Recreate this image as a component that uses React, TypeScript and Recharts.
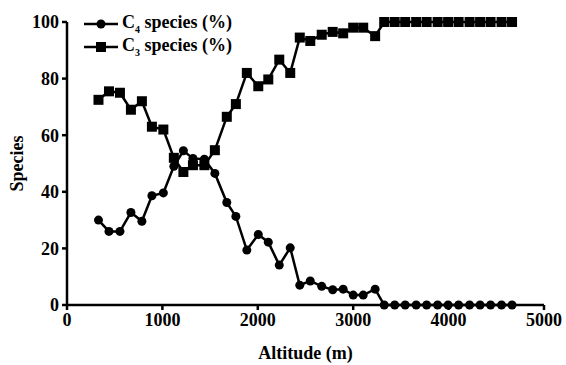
import React from 'react';
import { LineChart, Line, XAxis, YAxis, Label } from 'recharts';

// altitude of each sampling site (m)
const altitude = [
  330, 440, 555, 670, 785, 890, 1010, 1120, 1220, 1320, 1440, 1550, 1675, 1770,
  1885, 2005, 2110, 2225, 2340, 2440, 2550, 2670, 2785, 2895, 3000, 3105, 3230,
  3325, 3435, 3545, 3660, 3770, 3885, 3995, 4105, 4220, 4330, 4440, 4555, 4665,
];

// share of C4 species (%)
const c4Species = [
  30, 26, 26, 32.7, 29.6, 38.6, 39.6, 49, 54.5, 51.8, 51.5, 46.5, 36.2, 31.3,
  19.4, 24.9, 22.2, 14.1, 20.2, 7, 8.5, 6.6, 5.4, 5.6, 3.5, 3.5, 5.6,
  0, 0, 0, 0, 0, 0, 0, 0, 0, 0, 0, 0, 0,
];

// share of C3 species (%)
const c3Species = [
  72.5, 75.5, 75, 69, 72, 63, 62, 52, 47, 49.4, 49.4, 54.7, 66.5, 71,
  82, 77.3, 79.7, 86.7, 82, 94.5, 93.3, 95.5, 96.5, 96, 98, 98, 95,
  100, 100, 100, 100, 100, 100, 100, 100, 100, 100, 100, 100, 100,
];

const xTicks = [0, 1000, 2000, 3000, 4000, 5000];
const yTicks = [0, 20, 40, 60, 80, 100];

const data = altitude.map((a, i) => ({
  altitude: a,
  c4: c4Species[i],
  c3: c3Species[i],
}));

const FONT = '"Liberation Serif", "Times New Roman", serif';

const SquareDot = (props: any) => {
  const { cx, cy, index } = props;
  if (cx == null || cy == null) return null;
  return <rect key={`sq-${index}`} x={cx - 5} y={cy - 5} width={10} height={10} fill="#000" />;
};

// legend drawn as an overlay so it does not shift the plot area
const ChartLegend = () => {
  const rows = [
    { sub: '4', shape: 'circle' },
    { sub: '3', shape: 'square' },
  ];
  return (
    <div
      style={{
        position: 'absolute',
        left: 84,
        top: 12,
        fontFamily: FONT,
        fontSize: 18,
        fontWeight: 'bold',
        color: '#000',
      }}
    >
      {rows.map((r) => (
        <div key={r.sub} style={{ display: 'flex', alignItems: 'center', height: 23 }}>
          <svg width={34} height={12} style={{ marginRight: 4 }}>
            <line x1={0} y1={6} x2={34} y2={6} stroke="#000" strokeWidth={2.5} />
            {r.shape === 'circle' ? (
              <circle cx={17} cy={6} r={4.5} fill="#000" />
            ) : (
              <rect x={12} y={1} width={10} height={10} fill="#000" />
            )}
          </svg>
          <span>
            C<sub style={{ fontSize: 10 }}>{r.sub}</sub> species (%)
          </span>
        </div>
      ))}
    </div>
  );
};

export default function App() {
  const tickStyle = { fill: '#000', fontSize: 18, fontFamily: FONT, fontWeight: 'bold' as const };
  return (
    <div style={{ position: 'absolute', left: 0, top: 0, width: 566, height: 365, background: '#fff' }}>
      <LineChart width={566} height={365} data={data} margin={{ top: 22, right: 22, bottom: 0, left: 0 }}>
        <XAxis
          dataKey="altitude"
          type="number"
          domain={[0, 5000]}
          ticks={xTicks}
          interval={0}
          height={60}
          tickSize={5}
          tickMargin={3}
          axisLine={{ stroke: '#000', strokeWidth: 2.5 }}
          tickLine={{ stroke: '#000', strokeWidth: 2.5 }}
          tick={tickStyle}
        >
          <Label
            value="Altitude (m)"
            position="insideBottom"
            offset={6}
            style={{ fill: '#000', fontSize: 18, fontFamily: FONT, fontWeight: 'bold' }}
          />
        </XAxis>
        <YAxis
          type="number"
          domain={[0, 100]}
          ticks={yTicks}
          interval={0}
          width={67}
          tickSize={5}
          tickMargin={3}
          axisLine={{ stroke: '#000', strokeWidth: 2.5 }}
          tickLine={{ stroke: '#000', strokeWidth: 2.5 }}
          tick={tickStyle}
        >
          <Label
            value="Species"
            angle={-90}
            position="insideLeft"
            offset={17}
            style={{ textAnchor: 'middle', fill: '#000', fontSize: 18, fontFamily: FONT, fontWeight: 'bold' }}
          />
        </YAxis>
        <Line
          dataKey="c4"
          stroke="#000"
          strokeWidth={2.5}
          dot={{ r: 4.5, fill: '#000', stroke: '#000', strokeWidth: 0 }}
          isAnimationActive={false}
        />
        <Line
          dataKey="c3"
          stroke="#000"
          strokeWidth={2.5}
          dot={<SquareDot />}
          isAnimationActive={false}
        />
      </LineChart>
      <ChartLegend />
    </div>
  );
}
